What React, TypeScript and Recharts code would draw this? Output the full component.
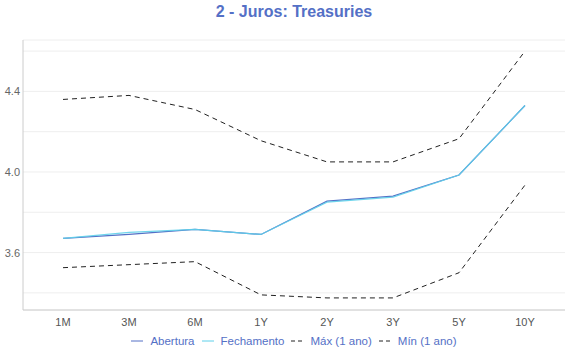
import { CartesianGrid, Legend, Line, LineChart, XAxis, YAxis } from "recharts";

const maturities = ["1M", "3M", "6M", "1Y", "2Y", "3Y", "5Y", "10Y"];
const abertura = [3.67, 3.69, 3.715, 3.69, 3.855, 3.88, 3.985, 4.33];
const fechamento = [3.67, 3.7, 3.715, 3.69, 3.85, 3.875, 3.985, 4.33];
const maximo = [4.36, 4.38, 4.31, 4.155, 4.05, 4.05, 4.165, 4.6];
const minimo = [3.525, 3.54, 3.555, 3.39, 3.375, 3.375, 3.5, 3.935];
const yTicks = [3.4, 3.6, 3.8, 4.0, 4.2, 4.4, 4.6];
const labeledTicks = [3.6, 4.0, 4.4];

const data = maturities.map((m, i) => ({
  m,
  abertura: abertura[i],
  fechamento: fechamento[i],
  max: maximo[i],
  min: minimo[i],
}));

const FONT = "'Liberation Sans', Arial, Helvetica, sans-serif";
const BLUE = "#5470c6";
const CYAN = "#5fd0ea";

const legendItems = [
  { label: "Abertura", color: BLUE, dash: undefined },
  { label: "Fechamento", color: CYAN, dash: undefined },
  { label: "Máx (1 ano)", color: "#222", dash: "4 3" },
  { label: "Mín (1 ano)", color: "#222", dash: "4 3" },
];

function LegendContent() {
  return (
    <div style={{ display: "flex", justifyContent: "center", gap: 7, fontFamily: FONT, fontSize: 11.5, color: BLUE }}>
      {legendItems.map((it) => (
        <span key={it.label} style={{ display: "flex", alignItems: "center" }}>
          <svg width={12} height={10} style={{ marginRight: 7 }}>
            <line x1={0} y1={5} x2={12} y2={5} stroke={it.color} strokeWidth={1} strokeDasharray={it.dash} />
          </svg>
          {it.label}
        </span>
      ))}
    </div>
  );
}

function YTick(props: any) {
  const { x, y, payload } = props;
  if (!labeledTicks.some((t) => Math.abs(t - payload.value) < 1e-6)) return null;
  return (
    <text x={x + 5} y={y} dy={4} textAnchor="end" fill="#666" fontSize={11} fontFamily={FONT}>
      {payload.value.toFixed(1)}
    </text>
  );
}

export default function App() {
  return (
    <div style={{ position: "absolute", left: 0, top: 0, width: 570, height: 360, background: "#fff" }}>
      <div
        style={{
          position: "absolute",
          top: 3,
          left: 23,
          width: 542,
          textAlign: "center",
          fontFamily: FONT,
          fontWeight: "bold",
          fontSize: 16,
          color: BLUE,
        }}
      >
        2 - Juros: Treasuries
      </div>
      <LineChart width={570} height={360} data={data} margin={{ top: 40, right: 5, left: 0, bottom: 13 }}>
        <CartesianGrid vertical={false} stroke="#eee" />
        <XAxis
          dataKey="m"
          padding={{ left: 40, right: 40 }}
          axisLine={{ stroke: "#ccc" }}
          tickLine={false}
          tick={{ fill: "#555", fontSize: 11, fontFamily: FONT }}
          height={25}
        />
        <YAxis
          width={23}
          domain={[3.315, 4.655]}
          ticks={yTicks}
          axisLine={{ stroke: "#ccc" }}
          tickLine={false}
          tick={<YTick />}
          interval={0}
        />
        <Legend content={<LegendContent />} wrapperStyle={{ top: 335, left: 23, width: 542 }} />
        <Line dataKey="max" stroke="#222" strokeWidth={1} strokeDasharray="5 4" dot={false} isAnimationActive={false} />
        <Line dataKey="min" stroke="#222" strokeWidth={1} strokeDasharray="5 4" dot={false} isAnimationActive={false} />
        <Line dataKey="abertura" stroke={BLUE} strokeWidth={1.2} dot={false} isAnimationActive={false} />
        <Line dataKey="fechamento" stroke={CYAN} strokeWidth={1.2} strokeOpacity={0.9} dot={false} isAnimationActive={false} />
      </LineChart>
    </div>
  );
}
